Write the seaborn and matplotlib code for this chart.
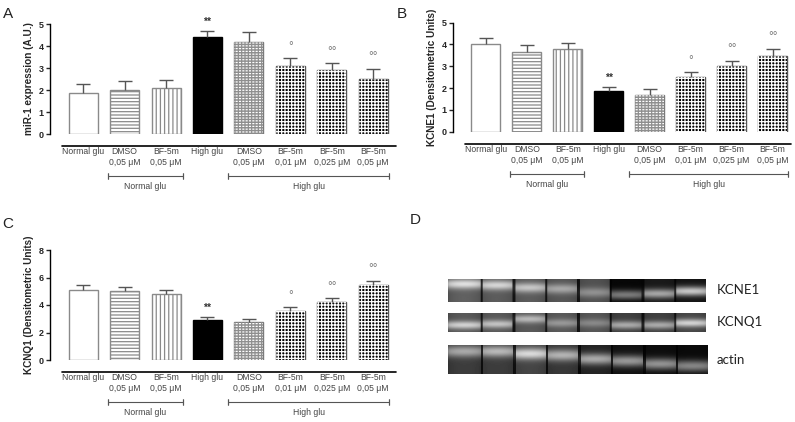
import numpy as np
import pandas as pd
import seaborn as sns
import matplotlib.pyplot as plt
import matplotlib.transforms as mtransforms
from matplotlib.patches import Rectangle

# --- data ---
codes = ["ng", "ng_dmso", "ng_bf", "hg", "hg_dmso", "hg_bf01", "hg_bf025", "hg_bf05"]
labels = ["Normal glu", "DMSO\n0,05 μM", "BF-5m\n0,05 μM", "High glu",
          "DMSO\n0,05 μM", "BF-5m\n0,01 μM", "BF-5m\n0,025 μM", "BF-5m\n0,05 μM"]
marks = ["", "", "", "**", "", "°", "°°", "°°"]

mir1_mean = [1.88, 2.00, 2.08, 4.39, 4.20, 3.09, 2.89, 2.48]
mir1_sem = [0.39, 0.41, 0.36, 0.31, 0.44, 0.35, 0.32, 0.47]
kcne1_mean = [4.00, 3.67, 3.79, 1.88, 1.70, 2.49, 3.00, 3.47]
kcne1_sem = [0.28, 0.29, 0.29, 0.18, 0.24, 0.23, 0.24, 0.32]
kcnq1_mean = [5.09, 5.02, 4.80, 2.91, 2.79, 3.59, 4.22, 5.48]
kcnq1_sem = [0.36, 0.26, 0.29, 0.19, 0.21, 0.24, 0.26, 0.29]

# western blot lanes: background, band brightness, band position (0 top .. 1 bottom)
kcne1_bg = [0.38, 0.36, 0.36, 0.34, 0.32, 0.03, 0.10, 0.08]
kcne1_band = [0.50, 0.48, 0.42, 0.32, 0.25, 0.45, 0.55, 0.70]
kcne1_pos = [0.25, 0.30, 0.40, 0.45, 0.60, 0.70, 0.65, 0.55]
kcnq1_bg = [0.35, 0.35, 0.35, 0.35, 0.34, 0.25, 0.25, 0.28]
kcnq1_band = [0.48, 0.42, 0.38, 0.25, 0.20, 0.42, 0.42, 0.55]
kcnq1_pos = [0.65, 0.60, 0.35, 0.55, 0.55, 0.65, 0.65, 0.55]
actin_bg = [0.24, 0.24, 0.27, 0.22, 0.14, 0.07, 0.05, 0.04]
actin_band = [0.42, 0.48, 0.58, 0.48, 0.52, 0.52, 0.52, 0.48]
actin_pos = [0.22, 0.22, 0.30, 0.35, 0.48, 0.55, 0.65, 0.72]

sns.set_theme(style="ticks")
plt.rcParams["font.family"] = ["Liberation Sans", "DejaVu Sans"]
plt.rcParams["hatch.linewidth"] = 0.9

fig = plt.figure(figsize=(7.95, 4.22), dpi=100)


def below(ax, px):
    # x in data units, y fixed pixels under the bottom of the axes
    base = mtransforms.blended_transform_factory(ax.transData, ax.transAxes)
    return base + mtransforms.ScaledTranslation(0, -px / 100, fig.dpi_scale_trans)


def bar_panel(rect, means, sems, ylim, yticks, ylabel, xright):
    ax = fig.add_axes(rect)
    df = pd.DataFrame({"grupo": codes, "valor": means})
    sns.barplot(data=df, x="grupo", y="valor", order=codes, width=0.7,
                color="white", edgecolor="#8a8a8a", linewidth=1.0,
                errorbar=None, ax=ax)
    bars = ax.patches[:len(codes)]
    for i, p in enumerate(bars):
        x, y, w, h = p.get_x(), p.get_y(), p.get_width(), p.get_height()
        if i == 1:
            p.set_hatch("-----")
        elif i == 2:
            p.set_hatch("||||")
        elif i == 3:
            p.set_facecolor("black")
            p.set_edgecolor("black")
        elif i == 4:
            p.set_facecolor("#8e8e8e")
            p.set_edgecolor("#7a7a7a")
            ax.add_patch(Rectangle((x, y), w, h, fill=False, lw=0,
                                   edgecolor="white", hatch="------"))
            ax.add_patch(Rectangle((x, y), w, h, fill=False, lw=0,
                                   edgecolor="#8e8e8e", hatch="|||||"))
        elif i >= 5:
            p.set_facecolor("black")
            p.set_edgecolor("#555555")
            ax.add_patch(Rectangle((x, y), w, h, fill=False, lw=0,
                                   edgecolor="white", hatch="+++++"))

    xs = np.arange(len(codes))
    err = ax.errorbar(xs, means, yerr=[np.zeros(len(sems)), sems], fmt="none",
                      ecolor="#555555", elinewidth=1.0, capsize=5, capthick=1.0,
                      zorder=1)
    err[1][0].set_visible(False)

    for i, m in enumerate(marks):
        if m:
            star = m.startswith("*")
            ax.annotate(m, (xs[i], means[i] + sems[i]),
                        xytext=(0, 3 if star else 4),
                        textcoords="offset points", ha="center", va="bottom",
                        fontsize=7.5 if star else 8.5,
                        fontweight="bold" if star else "normal",
                        color="#333333" if star else "#777777")

    ax.set_ylim(*ylim)
    ax.set_xlim(-0.8, xright)
    ax.set_yticks(yticks)
    ax.set_yticklabels([str(t) for t in yticks], fontsize=6.5, fontweight="bold")
    ax.set_ylabel(ylabel, fontsize=7.2, fontweight="bold", labelpad=3)
    ax.set_xlabel("")
    ax.set_xticks(xs)
    ax.set_xticklabels(labels, fontsize=6.2, color="#444444", linespacing=1.25)
    ax.tick_params(axis="x", length=0, pad=9.5)
    ax.tick_params(axis="y", length=3, width=1, pad=1.5)
    for s in ["top", "right", "bottom"]:
        ax.spines[s].set_visible(False)
    ax.spines["left"].set_linewidth(1.0)
    ax.spines["left"].set_color("black")
    ax.spines["left"].set_bounds(ylim[0], ylim[1])

    # line under the axis
    ax.plot([-0.5, xright], [0, 0], color="black", lw=1.2,
            transform=below(ax, 12), clip_on=False)
    # group brackets
    for x0, x1, txt in [(0.6, 2.4, "Normal glu"), (3.5, 7.38, "High glu")]:
        t = below(ax, 42)
        ax.plot([x0, x1], [0, 0], color="#555555", lw=0.8, transform=t, clip_on=False)
        for xe in (x0, x1):
            ax.plot([xe, xe], [0, 0], marker="|", ms=4, mew=0.8, color="#555555",
                    transform=t, clip_on=False)
        ax.text((x0 + x1) / 2, 0, txt, transform=below(ax, 48), ha="center",
                va="top", fontsize=6.2, color="#444444")
    return ax


bar_panel([50 / 795, 1 - 134 / 422, 346 / 795, 110 / 422], mir1_mean, mir1_sem,
          (0, 5), [0, 1, 2, 3, 4, 5], "miR-1 expression (A.U.)", 7.55)
bar_panel([453 / 795, 1 - 131.7 / 422, 338 / 795, 109 / 422], kcne1_mean, kcne1_sem,
          (0, 5), [0, 1, 2, 3, 4, 5], "KCNE1 (Densitometric Units)", 7.45)
bar_panel([50 / 795, 1 - 360 / 422, 346 / 795, 110 / 422], kcnq1_mean, kcnq1_sem,
          (0, 8), [0, 2, 4, 6, 8], "KCNQ1 (Densitometric Units)", 7.55)


def blot(bg, band, pos, h, w=260, sigma=0.2):
    img = np.zeros((h, w))
    lane_w = w / len(bg)
    rows = (np.arange(h) + 0.5) / h
    for c in range(w):
        lane = min(int(c / lane_w), len(bg) - 1)
        u = (c - lane * lane_w) / lane_w
        col = bg[lane] + band[lane] * np.exp(-((rows - pos[lane]) / sigma) ** 2)
        col = col * (0.8 + 0.2 * np.sin(np.pi * u) ** 0.5)
        if lane > 0 and u < 0.07:
            col = col * 0.25
        img[:, c] = col
    return np.clip(img, 0, 1)


for rect, bg, band, pos, h, name in [
        ((448, 279, 258, 23), kcne1_bg, kcne1_band, kcne1_pos, 23, "KCNE1"),
        ((448, 313, 258, 19), kcnq1_bg, kcnq1_band, kcnq1_pos, 19, "KCNQ1"),
        ((448, 345, 260, 29), actin_bg, actin_band, actin_pos, 29, "actin")]:
    x, y, w, hh = rect
    bx = fig.add_axes([x / 795, 1 - (y + hh) / 422, w / 795, hh / 422])
    bx.imshow(blot(bg, band, pos, h), cmap="gray", vmin=0, vmax=1, aspect="auto",
              interpolation="bilinear")
    bx.set_axis_off()
    fig.text(717 / 795, 1 - (y + hh / 2) / 422, name, fontsize=9.5, va="center",
             ha="left", color="#222222", family=["Lato", "DejaVu Sans"])

for txt, x, y in [("A", 3, 18), ("B", 397, 18), ("C", 2, 228), ("D", 410, 224)]:
    fig.text(x / 795, 1 - y / 422, txt, fontsize=11, color="#222222", va="baseline")

plt.savefig("out.png", dpi=100)
